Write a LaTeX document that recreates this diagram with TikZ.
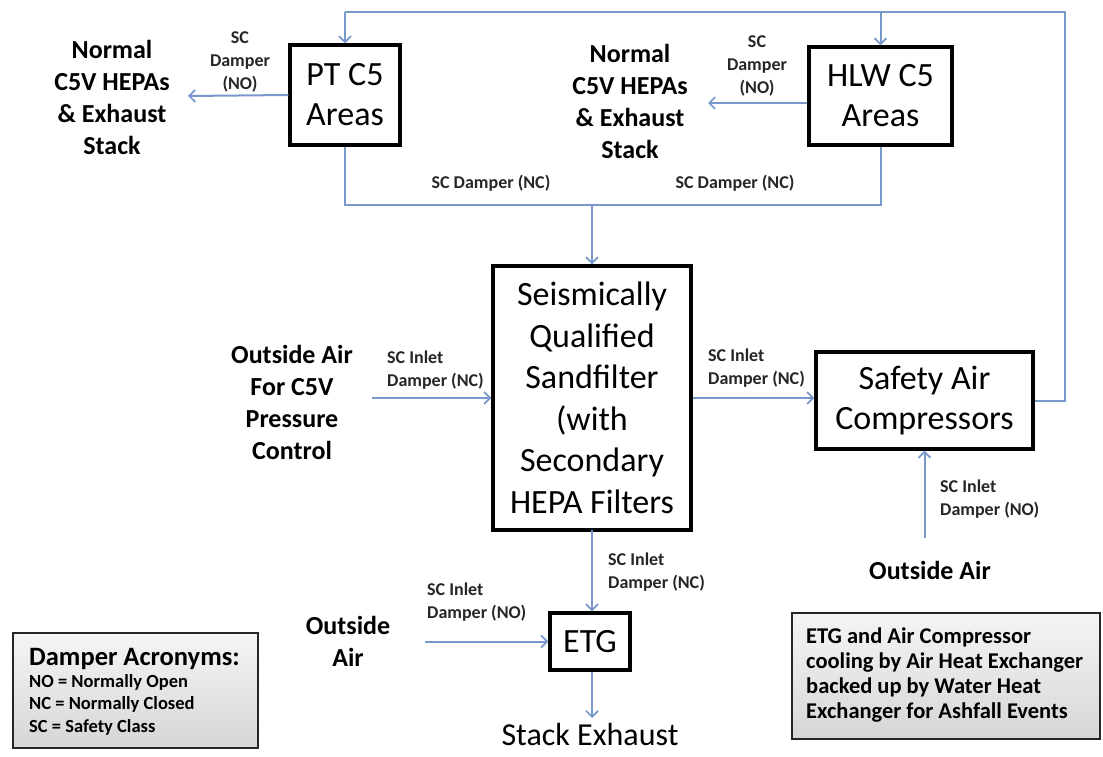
\documentclass[tikz,border=0pt]{standalone}
\usepackage{fontspec}
\setmainfont{Carlito}
\usetikzlibrary{arrows.meta}
\definecolor{flowblue}{RGB}{120,152,204}
\begin{document}
\begin{tikzpicture}[x=1pt,y=-1pt,
  boxnode/.style={draw=black,line width=3.4pt,fill=white,align=center,inner sep=0pt,font=\fontsize{34}{40}\selectfont},
  sidetext/.style={align=center,font=\bfseries\fontsize{26}{32}\selectfont,inner sep=0pt},
  damplbl/.style={align=center,font=\bfseries\fontsize{18}{23}\selectfont,inner sep=0pt,text=black!85},
  damplbll/.style={align=left,anchor=west,font=\bfseries\fontsize{18}{23.5}\selectfont,inner sep=0pt,text=black!85},
  flow/.style={draw=flowblue,line width=2pt},
  flowarr/.style={flow,-{Straight Barb[length=6pt,width=12pt,line width=1.7pt]}},
  infobox/.style={draw=black!85,line width=2.4pt,top color=gray!8,bottom color=gray!32,inner sep=0pt}
]
\useasboundingbox (0,0) rectangle (1103,757);

% main boxes
\node[boxnode,minimum width=110pt,minimum height=100pt] (pt) at (345,95) {PT C5\\Areas};
\node[boxnode,minimum width=143pt,minimum height=98pt] (hlw) at (880.5,96) {HLW C5\\Areas};
\node[boxnode,minimum width=198pt,minimum height=264pt,font=\fontsize{34}{41.5}\selectfont] (sand) at (592,398) {Seismically\\Qualified\\Sandfilter\\(with\\Secondary\\HEPA Filters};
\node[boxnode,minimum width=217pt,minimum height=97pt] (saf) at (924.5,400.5) {Safety Air\\Compressors};
\node[boxnode,minimum width=80pt,minimum height=57pt] (etg) at (590,641.5) {ETG};

% plain texts
\node[sidetext] (normL) at (112,97) {Normal\\C5V HEPAs\\\& Exhaust\\Stack};
\node[sidetext] (normM) at (630,101) {Normal\\C5V HEPAs\\\& Exhaust\\Stack};
\node[sidetext] (outC) at (292,402) {Outside Air\\For C5V\\Pressure\\Control};
\node[sidetext] (outR) at (930,570) {Outside Air};
\node[sidetext] (outE) at (348,641) {Outside\\Air};
\node[font=\fontsize{32}{38}\selectfont,inner sep=0pt,anchor=base] (stack) at (590,745) {Stack Exhaust};

% coordinates for free ends and bends
\coordinate (tr) at (1065,12);
\coordinate (tl) at (345,12);
\coordinate (th) at (880.5,12);
\coordinate (rb) at (1065,400.5);
\coordinate (bl) at (345,205);
\coordinate (br) at (880.5,205);
\coordinate (bm) at (592,205);
\coordinate (ptout) at (188,96);
\coordinate (hlwout) at (708,103);
\coordinate (c5in) at (372,398);
\coordinate (oain) at (924.5,538);
\coordinate (etgin) at (425,641.5);
\coordinate (stk) at (592,718);

% connectors
\draw[flow] (saf.east) -- (rb) -- (tr) -- (tl);
\draw[flowarr] (tl) -- (pt.north);
\draw[flowarr] (th) -- (hlw.north);
\draw[flow] (pt.south) -- (bl) -- (br) -- (hlw.south);
\draw[flowarr] (bm) -- (sand.north);
\draw[flowarr] (pt.west) -- (ptout);
\draw[flowarr] (hlw.west |- hlwout) -- (hlwout);
\draw[flowarr] (c5in) -- (c5in -| sand.west);
\draw[flowarr] (sand.east |- c5in) -- (c5in -| saf.west);
\draw[flowarr] (oain) -- (saf.south);
\draw[flowarr] (sand.south |- bm) ++(0,325) -- (sand.south |- etg.north);
\draw[flowarr] (etgin) -- (etg.west);
\draw[flowarr] (etg.south -| stk) -- (stk);

% damper labels
\node[damplbl] (l1) at (240,62) {SC\\Damper\\(NO)};
\node[damplbl] (l2) at (757,66) {SC\\Damper\\(NO)};
\node[damplbl] (l3) at (491,183) {SC Damper (NC)};
\node[damplbl] (l4) at (735,183) {SC Damper (NC)};
\node[damplbll] (l5) at (387,370) {SC Inlet\\Damper (NC)};
\node[damplbll] (l6) at (708,368) {SC Inlet\\Damper (NC)};
\node[damplbll] (l7) at (940,499) {SC Inlet\\Damper (NO)};
\node[damplbll] (l8) at (608,572) {SC Inlet\\Damper (NC)};
\node[damplbll] (l9) at (427,602) {SC Inlet\\Damper (NO)};

% legend box
\node[infobox,minimum width=245pt,minimum height=115pt] (leg) at (135.5,690.5) {};
\node[anchor=west,inner sep=0pt,font=\bfseries\fontsize{26.5}{28}\selectfont] (legt) at (29,659) {Damper Acronyms:};
\node[anchor=north west,align=left,inner sep=0pt,font=\bfseries\fontsize{18.5}{22.5}\selectfont] (legb) at (29,674) {NO = Normally Open\\NC = Normally Closed\\SC = Safety Class};

% note box
\node[infobox,minimum width=308pt,minimum height=126pt] (note) at (946,676) {};
\node[anchor=north west,align=left,inner sep=0pt,font=\bfseries\fontsize{22.5}{25}\selectfont] (notet) at (806,628) {ETG and Air Compressor\\cooling by Air Heat Exchanger\\backed up by Water Heat\\Exchanger for Ashfall Events};
\end{tikzpicture}
\end{document}
